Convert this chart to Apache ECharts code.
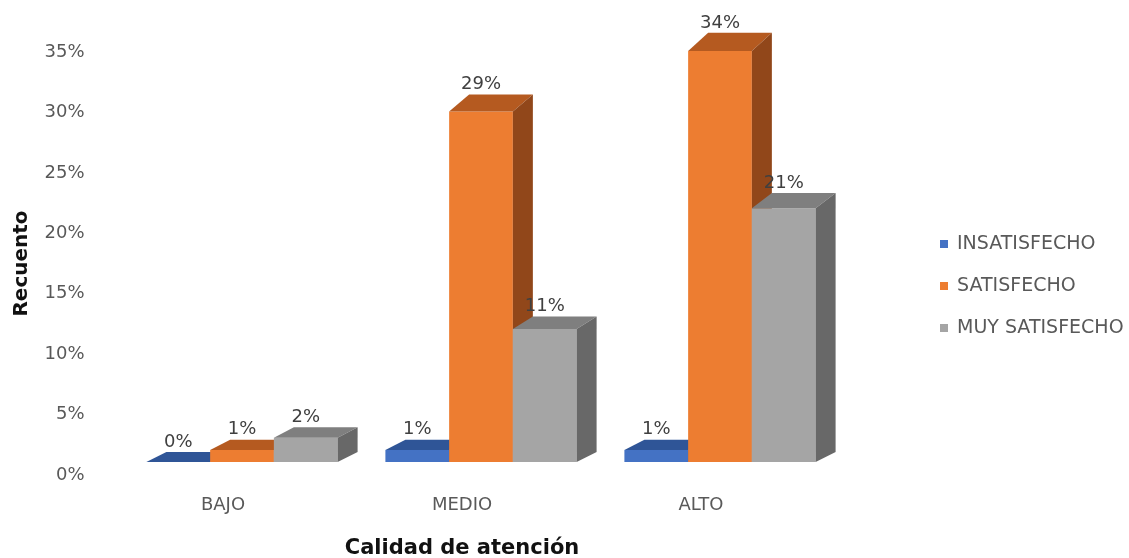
<!DOCTYPE html>
<html>
<head>
<meta charset="utf-8">
<script src="https://cdn.jsdelivr.net/npm/echarts@6/dist/echarts.min.js"></script>
<style>
  html, body { margin: 0; padding: 0; background: #ffffff; }
  #chart { width: 1129px; height: 558px; }
</style>
</head>
<body>
<div id="chart"></div>
<script>
// Survey results by level of care quality (percent of respondents)
const categories = ['BAJO', 'MEDIO', 'ALTO'];
const seriesNames = ['INSATISFECHO', 'SATISFECHO', 'MUY SATISFECHO'];
const insatisfecho = [0, 1, 1];
const satisfecho = [1, 29, 34];
const muySatisfecho = [2, 11, 21];

// Face shades for each series: front, top, side
const shades = [
  { front: '#4472C4', top: '#2F5597', side: '#274A85' },
  { front: '#ED7D31', top: '#B55A20', side: '#91471A' },
  { front: '#A5A5A5', top: '#7F7F7F', side: '#686868' }
];

// Oblique projection: front plane sits slightly right/up of the axis frame,
// depth is drawn up and to the right, a little steeper for taller bars.
const FRONT_DX = 19;
const FRONT_DY = -13;
const DEPTH_DX = 20;
function depthDy(h) { return 10 + 0.02 * h; }

const FONT = 'DejaVu Sans';

function makeRender(seriesIdx) {
  const c = shades[seriesIdx];
  return function (params, api) {
    const cat = api.value(0);
    const val = api.value(1);
    const base = api.coord([cat, 0]);
    const top = api.coord([cat, val]);
    const band = api.size([1, 0])[0];
    const barW = band * 0.8 / 3;
    const x0 = base[0] + FRONT_DX - band * 0.4 + seriesIdx * barW;
    const x1 = x0 + barW;
    const yb = base[1] + FRONT_DY;
    const yt = top[1] + FRONT_DY;
    const dyT = depthDy(yb - yt);
    const dyB = depthDy(0);
    const children = [];
    if (yb - yt > 0.5) {
      children.push({
        type: 'polygon',
        shape: { points: [[x0, yb], [x1, yb], [x1, yt], [x0, yt]] },
        style: { fill: c.front }
      });
    }
    children.push({
      type: 'polygon',
      shape: { points: [[x0, yt], [x1, yt], [x1 + DEPTH_DX, yt - dyT], [x0 + DEPTH_DX, yt - dyT]] },
      style: { fill: c.top }
    });
    children.push({
      type: 'polygon',
      shape: { points: [[x1, yb], [x1, yt], [x1 + DEPTH_DX, yt - dyT], [x1 + DEPTH_DX, yb - dyB]] },
      style: { fill: c.side }
    });
    children.push({
      type: 'text',
      style: {
        text: val + '%',
        x: (x0 + x1) / 2,
        y: yt - dyT - 1,
        align: 'center',
        verticalAlign: 'bottom',
        fill: '#404040',
        font: '18px "' + FONT + '"'
      }
    });
    return { type: 'group', children: children };
  };
}

const values = [insatisfecho, satisfecho, muySatisfecho];

const chart = echarts.init(document.getElementById('chart'), null, { renderer: 'canvas' });
chart.setOption({
  backgroundColor: '#ffffff',
  animation: false,
  grid: { left: 103.5, right: 308.5, top: 52, bottom: 83, containLabel: false, outerBoundsMode: 'none' },
  legend: {
    orient: 'vertical',
    left: 935,
    top: 229,
    itemWidth: 8,
    itemHeight: 8,
    itemGap: 22,
    icon: 'rect',
    data: seriesNames,
    textStyle: {
      fontFamily: FONT,
      fontSize: 19,
      color: '#595959',
      lineHeight: 20,
      padding: [0, 0, 0, 4]
    }
  },
  xAxis: {
    type: 'category',
    data: categories,
    name: 'Calidad de atención',
    nameLocation: 'middle',
    nameGap: 63,
    nameTextStyle: { fontFamily: FONT, fontSize: 21, fontWeight: 'bold', color: '#111111' },
    axisLine: { show: false },
    axisTick: { show: false },
    axisLabel: { margin: 21, fontFamily: FONT, fontSize: 18, color: '#595959' },
    splitLine: { show: false }
  },
  yAxis: {
    type: 'value',
    min: 0,
    max: 35,
    interval: 5,
    name: 'Recuento',
    nameLocation: 'middle',
    nameGap: 72,
    nameTextStyle: { fontFamily: FONT, fontSize: 20, fontWeight: 'bold', color: '#111111' },
    axisLine: { show: false },
    axisTick: { show: false },
    splitLine: { show: false },
    axisLabel: { margin: 19, fontFamily: FONT, fontSize: 18, color: '#595959', formatter: '{value}%' }
  },
  series: seriesNames.map(function (name, i) {
    return {
      name: name,
      type: 'custom',
      clip: false,
      itemStyle: { color: shades[i].front },
      renderItem: makeRender(i),
      encode: { x: 0, y: 1 },
      data: values[i].map(function (v, k) { return [k, v]; })
    };
  })
});
</script>
</body>
</html>
